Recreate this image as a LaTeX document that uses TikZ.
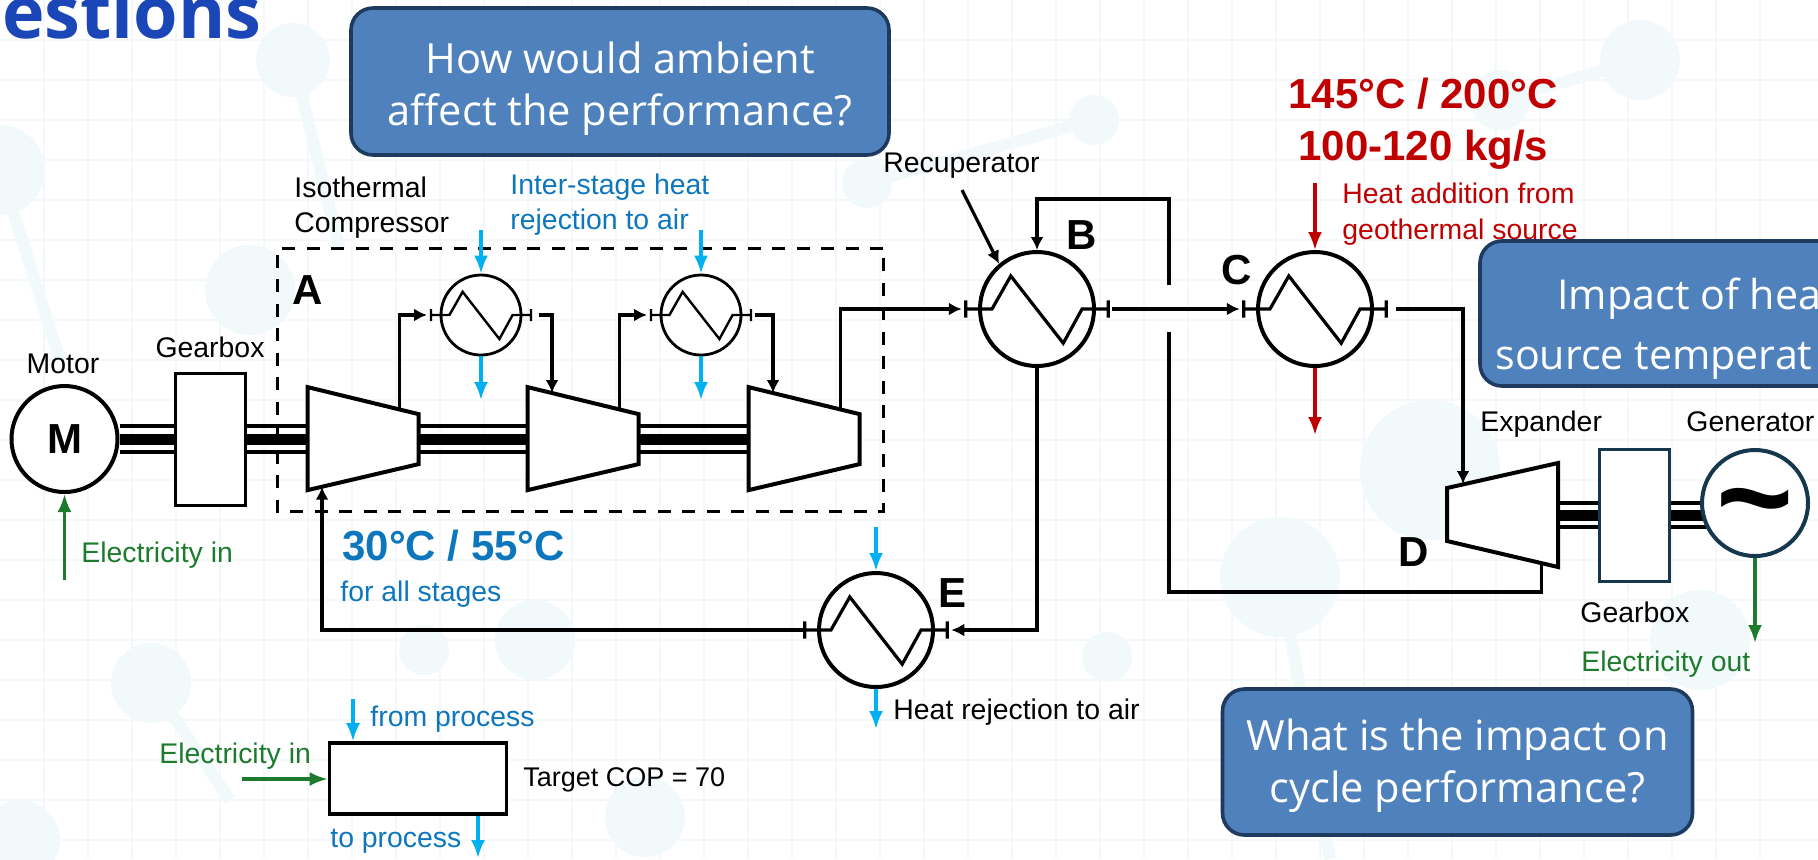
\documentclass[tikz,border=0pt]{standalone}
\usepackage{fontspec}
\usetikzlibrary{arrows.meta}
\setmainfont{Liberation Sans}
\newfontfamily\boxfont{Open Sans}
\definecolor{coldc}{HTML}{00B0F0}
\definecolor{coldt}{HTML}{0E76BD}
\definecolor{hotc}{HTML}{C00000}
\definecolor{elec}{HTML}{1E7B2E}
\definecolor{boxfill}{HTML}{4F81BD}
\definecolor{boxedge}{HTML}{1F3A5F}
\definecolor{titlec}{HTML}{1A46B8}
\definecolor{navy}{HTML}{16384F}
\definecolor{bgline}{HTML}{F4F8FA}
\definecolor{bgblob}{HTML}{F2F9FB}
\tikzset{
  hxs/.style={circle,draw,fill=white,line width=1.4pt,minimum size=40pt,inner sep=0pt},
  hxb/.style={circle,draw,fill=white,line width=2pt,minimum size=57pt,inner sep=0pt},
  gearbox/.style={rectangle,draw,fill=white,line width=1.5pt,minimum width=35pt,minimum height=66pt,inner sep=0pt},
  rotor/.style={circle,draw,fill=white,line width=2pt,minimum size=53pt,inner sep=0pt,font=\fontsize{21}{21}\selectfont\bfseries},
  casing/.style={draw=none,minimum width=55.5pt,minimum height=51.5pt,inner sep=0pt},
  pipe/.style={line width=1.6pt},
  flow/.style={line width=1.6pt,-{Latex[length=6.5pt,width=6.5pt]}},
  cold/.style={draw=coldc,line width=1.6pt,-{Latex[length=9pt,width=7pt]}},
  hot/.style={draw=hotc,line width=1.6pt,-{Latex[length=9pt,width=7pt]}},
  power/.style={draw=elec,line width=1.6pt,-{Latex[length=9pt,width=7pt]}},
  lbl/.style={anchor=west,inner sep=0pt,text height=10pt,text depth=3pt,font=\fontsize{14.2}{14.2}\selectfont},
  tag/.style={inner sep=0pt,font=\fontsize{21}{21}\selectfont\bfseries},
  big/.style={anchor=base west,inner sep=0pt,font=\fontsize{21}{21}\selectfont\bfseries},
  askbox/.style={rectangle,rounded corners=11pt,draw=boxedge,fill=boxfill,line width=1.8pt,text=white,align=center,inner sep=0pt,font=\boxfont\fontsize{20.8}{26}\selectfont},
  asktxt/.style={inner sep=0pt,anchor=west,text=white,font=\boxfont\fontsize{20.6}{21}\selectfont},
}
\newcommand{\hxzig}[3]{\draw[line width=#3,shift={(#1.center)},scale=#2]
  (-1.25,0) coordinate (#1-in) -- (-.79,0) -- (-.46,-.58) -- (.46,.6) -- (.79,0) -- (1.25,0) coordinate (#1-out)
  (-1.25,-.15) -- (-1.25,.15) (1.25,-.15) -- (1.25,.15);}
\newcommand{\compshape}[1]{\draw[line width=2pt,fill=white] (#1.north west) -- ++(111,27) coordinate[pos=.22] (#1-top) coordinate[pos=.83] (#1-out)
  -- ++(0,50) -- ++(-111,26) coordinate[pos=.87] (#1-low) -- cycle;}
\newcommand{\shaft}[3]{\draw[line width=1.8pt] ([yshift=-#3]#1) -- ([yshift=-#3]#2) ([yshift=#3]#1) -- ([yshift=#3]#2);
  \draw[line width=5.5pt] (#1) -- (#2);}
\begin{document}
\begin{tikzpicture}[x=.5pt,y=-.5pt]
\useasboundingbox (0,0) rectangle (1818,859);
\clip (0,0) rectangle (1818,859);
% backdrop
\foreach \x in {44,88,...,1800}
\draw[bgline,line width=.8pt] (\x,0) -- (\x,859);
\foreach \y in {40,80,...,840}
\draw[bgline,line width=.8pt] (0,\y) -- (1818,\y);
\foreach \bx/\by/\br in {293/60/37,0/170/45,250/290/45,151/683/40,424/650/25,535/640/40,645/817/40,1280/577/60,1430/470/70,1107/657/25,1094/120/25,867/183/25,20/840/40,1700/640/50,1640/60/40,1500/100/30}
\fill[bgblob] (\bx,\by) circle[radius=\br];
\draw[bgblob,line width=6pt] (293,60) -- (340,250) (0,170) -- (60,360) (151,683) -- (230,800) (1094,120) -- (867,183) (1280,577) -- (1330,859) (1500,100) -- (1640,60);
% title
\node[anchor=base west,inner sep=0pt,text=titlec,font=\boxfont\fontsize{36}{36}\selectfont\bfseries] (title) at (2,38) {estions};
% isolating box
\draw[line width=1.5pt,dash pattern=on 6.5pt off 5.75pt] (883,248) -| (277,511) -| (883,248);
% machines
\node[rotor] (motor) at (64.5,439) {M};
\node[gearbox] (gb1) at (210.5,439) {};
\node[casing] (cp1) at (363.5,439) {};
\node[casing] (cp2) at (583.5,439) {};
\node[casing] (cp3) at (804.5,439) {};
\node[casing] (exp) at (1502.5,515) {};
\node[gearbox,draw=navy] (gb2) at (1634.5,515) {};
\coordinate (genjoin) at (1730,515);
% shafts
\shaft{motor.east}{gb1.west}{6.5pt}
\shaft{gb1.east}{cp1.west}{6.5pt}
\shaft{cp1.east}{cp2.west}{6.5pt}
\shaft{cp2.east}{cp3.west}{6.5pt}
\shaft{exp.east}{gb2.west}{6pt}
\shaft{gb2.east}{genjoin}{6pt}
\node[rotor,draw=navy] (gen) at (1755,503) {};
\node[inner sep=0pt,font=\fontsize{66}{66}\selectfont\bfseries] (wave) at ([yshift=-6pt]gen.center) {\textasciitilde};
\compshape{cp1}
\compshape{cp2}
\compshape{cp3}
\draw[line width=2pt,fill=white] (1558,463) -- (1447,488) -- (1447,541) -- (1558,567) coordinate[pos=.85] (exp-low) -- cycle;
\coordinate (exp-top) at (1463,484);
% exchangers
\node[hxs] (hx1) at (481,315) {};
\node[hxs] (hx2) at (701,315) {};
\node[hxb] (rec) at (1037,309) {};
\node[hxb] (heat) at (1315,309) {};
\node[hxb] (cool) at (876,630) {};
\hxzig{hx1}{40}{1.2pt}
\hxzig{hx2}{40}{1.2pt}
\hxzig{rec}{57}{1.6pt}
\hxzig{heat}{57}{1.6pt}
\hxzig{cool}{57}{1.6pt}
% process lines
\draw[flow,shorten >=2pt] (cp1-out) |- (hx1-in);
\draw[flow,shorten <=4pt] (hx1-out) -| (cp2-top);
\draw[flow,shorten >=2pt] (cp2-out) |- (hx2-in);
\draw[flow,shorten <=2pt] (hx2-out) -| (cp3-top);
\draw[flow,shorten >=2pt] (cp3-out) |- (rec-in);
\draw[flow,shorten <=2pt,shorten >=2pt] (rec-out) -- (heat-in);
\draw[flow,shorten <=5pt] (heat-out) -| (exp-top);
\coordinate (crossU) at (1169,285);
\coordinate (crossL) at (1169,332);
\coordinate (rettop) at (1169,199);
\coordinate (retlow) at (1169,592);
\draw[pipe] (exp-low) |- (retlow) -- (crossL);
\draw[flow] (crossU) -- (rettop) -| (rec.north);
\draw[flow,shorten >=2pt] (rec.south) |- (cool-out);
\draw[flow] (cool-in) -| (cp1-low);
\coordinate (recnote) at (962,190);
\draw[flow] (recnote) -- (rec.130);
% heat and power
\foreach \nm in {hx1,hx2,cool}{
\coordinate (\nm-a) at ([yshift=22pt]\nm.north);
\draw[cold] (\nm-a) -- (\nm.north);}
\coordinate (hx1-z) at (481,400);
\coordinate (hx2-z) at (701,400);
\coordinate (cool-z) at (876,729);
\draw[cold] (hx1.south) -- (hx1-z);
\draw[cold] (hx2.south) -- (hx2-z);
\draw[cold] (cool.south) -- (cool-z);
\coordinate (heat-a) at (1315,183);
\coordinate (heat-z) at (1315,435);
\draw[hot] (heat-a) -- (heat.north);
\draw[hot] (heat.south) -- (heat-z);
\coordinate (motor-a) at (64.5,580);
\draw[power] (motor-a) -- (motor.south);
\coordinate (gen-z) at (1755,643);
\draw[power] (gen.south) -- (gen-z);
% target block
\node[rectangle,draw,fill=white,line width=1.8pt,minimum width=88.5pt,minimum height=35.5pt,inner sep=0pt] (pump) at (418,778.5) {};
\coordinate (pump-a) at (353,699);
\coordinate (pump-z) at (478,858);
\coordinate (pump-e) at (241.5,779);
\draw[cold] (pump-a) -- (pump-a |- pump.north);
\draw[cold] (pump-z |- pump.south) -- (pump-z);
\draw[power] (pump-e) -- (pump.west |- pump-e);
% labels
\node[lbl,anchor=center] (motorl) at (63,366) {Motor};
\node[lbl,anchor=center] (gb1l) at (210,350) {Gearbox};
\node[lbl] (isol) at (294,190) {Isothermal};
\node[lbl] (compl) at (294,225) {Compressor};
\node[lbl,text=coldt] (interl) at (510,187) {Inter-stage heat};
\node[lbl,text=coldt] (rejl) at (510,222) {rejection to air};
\node[lbl] (recl) at (883,165) {Recuperator};
\node[lbl,text=elec] (ein1) at (81,555) {Electricity in};
\node[big,text=coldt] (cold30) at (342,560) {30°C / 55°C};
\node[lbl,text=coldt] (allst) at (340,594) {for all stages};
\node[big,text=hotc] (hot145) at (1288,108) {145°C / 200°C};
\node[big,text=hotc] (flowr) at (1298,160) {100-120 kg/s};
\node[lbl,text=hotc] (addl) at (1342,196) {Heat addition from};
\node[lbl,text=hotc] (geol) at (1342,232) {geothermal source};
\node[lbl] (expl) at (1480,424) {Expander};
\node[lbl] (genl) at (1686,424) {Generator};
\node[lbl] (gb2l) at (1580,615) {Gearbox};
\node[lbl,text=elec] (eout) at (1581,664) {Electricity out};
\node[lbl] (rejair) at (893,712) {Heat rejection to air};
\node[lbl,text=coldt] (fromp) at (370,719) {from process};
\node[lbl,text=elec] (ein2) at (159,756) {Electricity in};
\node[lbl,font=\fontsize{13.5}{13.5}\selectfont] (cop) at (523,779) {Target COP = 70};
\node[lbl,text=coldt] (top) at (330,840) {to process};
\node[tag] (ta) at (308,290) {A};
\node[tag] (tb) at (1082,235) {B};
\node[tag] (tc) at (1237,270) {C};
\node[tag] (td) at (1413.5,552) {D};
\node[tag] (te) at (952,593) {E};
% question boxes
\node[askbox,minimum width=269pt,minimum height=73.5pt] (ask1) at (620,81.5) {\rule{0pt}{1.1em}How would ambient\\affect the performance?};
\node[askbox,minimum width=230pt,minimum height=72.5pt] (ask2) at (1710,313.5) {};
\node[asktxt] (ask2a) at (1557,299) {Impact of hea};
\node[asktxt] (ask2b) at (1495,361) {source temperat};
\node[askbox,minimum width=235pt,minimum height=73pt] (ask3) at (1457.5,762) {\rule{0pt}{.95em}What is the impact on\\cycle performance?};
\end{tikzpicture}
\end{document}
